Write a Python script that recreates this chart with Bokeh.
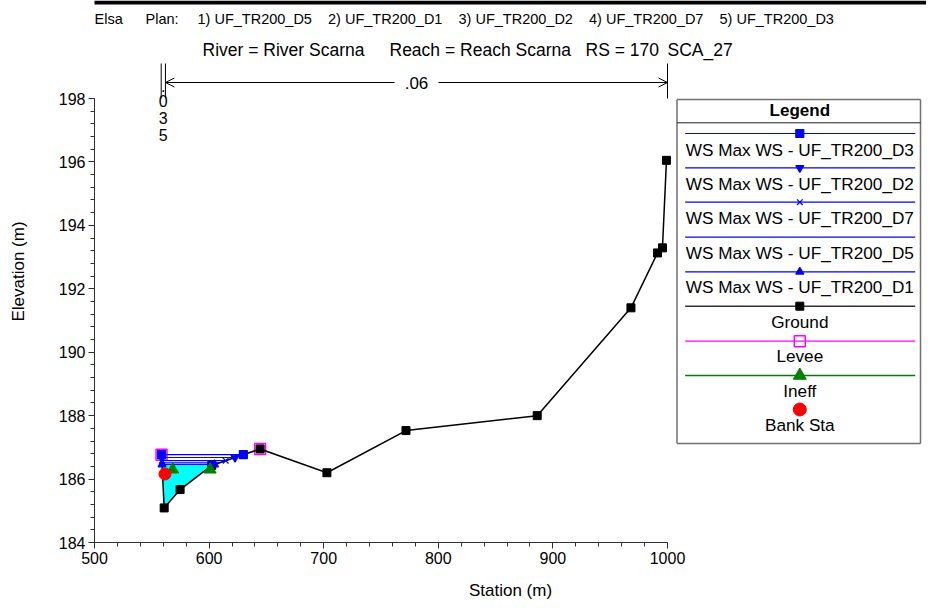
import numpy as np
from bokeh.plotting import figure
from bokeh.models import (Range1d, Label, Arrow, OpenHead, SingleIntervalTicker)
from bokeh.embed import file_html
from bokeh.resources import INLINE

# ---------------- data ----------------
ground_sta = [558.5, 560.8, 574.7, 602.3, 644.5, 702.8, 771.8, 886.3, 968.1, 991.3, 995.6, 999.1]
ground_elev = [186.77, 185.09, 185.67, 186.43, 186.95, 186.20, 187.53, 188.00, 191.40, 193.13, 193.29, 196.05]
levee_sta = [558.5, 644.5]
levee_elev = [186.77, 186.95]
ineff_sta = [568.3, 600.9]
ineff_elev = [186.30, 186.30]
bank_sta = [561.5]
bank_elev = [186.16]
ws_plans = ["UF_TR200_D3", "UF_TR200_D2", "UF_TR200_D7", "UF_TR200_D5", "UF_TR200_D1"]
ws_elev = [186.77, 186.68, 186.58, 186.51, 186.46]
ws_marker = ["square", "inverted_triangle", "x", None, "triangle"]
n_sta = [558.2, 561.9, 1000.0]
n_val = [".035", ".06"]
plan_labels = ["1) UF_TR200_D5", "2) UF_TR200_D1", "3) UF_TR200_D2", "4) UF_TR200_D7", "5) UF_TR200_D3"]
x_lo, x_hi = 500, 1000
y_lo, y_hi = 184, 198

FONT = "Liberation Sans"
BLUE = "#0000FF"
MAG = "#FF00FF"
GREEN = "#008000"

# layout (page pixels): canvas origin offset observed in the render
OX, OY = 2, 1
W, H = 926, 602
FX0, FX1, FY0, FY1 = 96, 669, 99, 543          # where the axes sit on the page
PXM = (FX1 - FX0) / (x_hi - x_lo)              # px per metre (x)
PYM = (FY1 - FY0) / (y_hi - y_lo)              # px per metre (y)
PAGE_R = OX + W
PAGE_T = OY

p = figure(width=W, height=H,
           x_range=Range1d(x_lo, x_lo + (PAGE_R - FX0) / PXM),
           y_range=Range1d(y_lo, y_lo + (FY1 - PAGE_T) / PYM),
           output_backend="svg", toolbar_location=None,
           min_border_left=FX0 - OX, min_border_right=0,
           min_border_top=0, min_border_bottom=H - (FY1 - OY),
           x_axis_label="Station (m)", y_axis_label="Elevation (m)")
p.outline_line_color = None
p.grid.visible = False
p.background_fill_color = "white"
p.border_fill_color = "white"
p.extra_x_ranges = {"px": Range1d(FX0, PAGE_R)}
p.extra_y_ranges = {"px": Range1d(FY1, PAGE_T)}

p.xaxis.ticker = SingleIntervalTicker(interval=100, num_minor_ticks=5)
p.yaxis.ticker = SingleIntervalTicker(interval=2, num_minor_ticks=5)
p.xaxis.bounds = (x_lo, x_hi)
p.yaxis.bounds = (y_lo, y_hi)
for ax in (p.xaxis, p.yaxis):
    ax.major_tick_out = 6
    ax.major_tick_in = 0
    ax.minor_tick_out = 4
    ax.minor_tick_in = 0
    ax.axis_line_color = "#303030"
    ax.major_tick_line_color = "#303030"
    ax.minor_tick_line_color = "#303030"
    ax.major_label_text_font = FONT
    ax.major_label_text_font_size = "16px"
    ax.major_label_text_color = "black"
    ax.axis_label_text_font = FONT
    ax.axis_label_text_font_size = "17px"
    ax.axis_label_text_font_style = "normal"
    ax.axis_label_text_color = "black"
p.xaxis.major_label_standoff = 3
p.yaxis.major_label_standoff = 3
p.xaxis.axis_label_standoff = 14
p.yaxis.axis_label_standoff = 28

# ---------------- plot marks ----------------
gx = np.array(ground_sta)
gy = np.array(ground_elev)

def ws_ends(e):
    left = np.interp(e, [gy[1], gy[0]], [gx[1], gx[0]])
    right = np.interp(e, gy[2:5], gx[2:5])
    return left, right

# water fill for lowest profile
e_fill = min(ws_elev)
lf, rt = ws_ends(e_fill)
inside = [(s, z) for s, z in zip(gx, gy) if lf < s < rt]
px_ = [lf, rt] + [s for s, z in inside[::-1]]
py_ = [e_fill, e_fill] + [z for s, z in inside[::-1]]
p.patch(px_, py_, fill_color="#00FFFF", line_color=None)

# levee
p.scatter(levee_sta, levee_elev, marker="square", size=11, fill_color=None,
          line_color=MAG, line_width=1.5)

# ground
p.line(ground_sta, ground_elev, line_color="black", line_width=1.5)
p.scatter(ground_sta, ground_elev, marker="square", size=8, color="black")

# water surfaces
for e, m in zip(ws_elev, ws_marker):
    l, r = ws_ends(e)
    p.line([l, r], [e, e], line_color=BLUE, line_width=1.2)
    if m is not None:
        p.scatter([l, r], [e, e], marker=m, size=8, color=BLUE, line_width=1.2)

# ineffective
p.scatter(ineff_sta, ineff_elev, marker="triangle", size=12, color=GREEN)
# bank stations
p.scatter(bank_sta, bank_elev, marker="circle", size=12, color="red")

# ---------------- annotations ----------------
def lab(x, y, text, size=17, align="left", bold=False, xr="px"):
    p.add_layout(Label(x=x, y=y, x_range_name=xr, y_range_name="px", text=text,
                       text_font=FONT, text_font_size=f"{size}px",
                       text_font_style="bold" if bold else "normal",
                       text_align=align, text_baseline="middle", text_color="black"))

def seg(x0, y0, x1, y1, color="black", width=1.0, xr="px", end=None):
    p.add_layout(Arrow(x_start=x0, y_start=y0, x_end=x1, y_end=y1, start=None, end=end,
                       line_color=color, line_width=width, x_range_name=xr, y_range_name="px"))

def pline(x0, y0, x1, y1, color="black", width=1.0):
    p.line([x0, x1], [y0, y1], line_color=color, line_width=width,
           x_range_name="px", y_range_name="px")

# top bar
pline(FX0 - 100, 3, PAGE_R + 10, 3, width=4)

# titles
lab(96, 19, "Elsa", 14.5)
lab(147, 19, "Plan:", 14.5)
for i, t in enumerate(plan_labels):
    lab(199 + i * 130.5, 19, t, 14.5)
lab(204, 50, "River = River Scarna", 17.5)
lab(391, 50, "Reach = Reach Scarna", 17.5)
lab(587, 50, "RS = 170", 17.5)
lab(669, 50, "SCA_27", 17.5)

# Manning's n regions
for s in n_sta:
    seg(s, 64, s, 99, xr="default")
mid0 = (n_sta[0] + n_sta[1]) / 2
for k, ch in enumerate(n_val[0]):
    lab(mid0, 86 if k == 0 else 84 + k * 17, ch, 16, align="center", xr="default")
mid1 = (n_sta[1] + n_sta[2]) / 2
gap = 22 / PXM
lab(mid1, 83, n_val[1], 17, align="center", xr="default")
seg(mid1 - gap, 83, n_sta[1], 83, xr="default",
    end=OpenHead(size=9, line_color="black", line_width=1))
seg(mid1 + gap, 83, n_sta[2], 83, xr="default",
    end=OpenHead(size=9, line_color="black", line_width=1))

# legend box
LX0, LX1, LY0, LY1 = 678.5, 922, 100, 444
for (a, b, c, d) in [(LX0, LY0, LX1, LY0), (LX0, LY1, LX1, LY1),
                     (LX0, LY0, LX0, LY1), (LX1, LY0, LX1, LY1)]:
    pline(a, b, c, d, color="#707070", width=1.5)
pline(LX0, 123.3, LX1, 123.3, color="#202020", width=1)
CX = 801.3
lab(CX, 110.5, "Legend", 17, align="center", bold=True)

line_y = [134, 168.3, 202.7, 237.7, 272.3, 306.7, 341.7, 376]
text_y = [150, 184.5, 218.5, 253, 287.7, 322.3, 356.7, 391, 425]
LL0, LL1 = 686.7, 916.7

def mk(y, marker, size, fill, line=None, lw=1.0):
    p.scatter([CX], [y], marker=marker, size=size, fill_color=fill,
              line_color=line if line else fill, line_width=lw,
              x_range_name="px", y_range_name="px")

for i, (plan, m) in enumerate(zip(ws_plans, ws_marker)):
    y = line_y[i]
    pline(LL0, y, LL1, y, color=BLUE, width=1.2)
    if m is not None:
        mk(y, m, 8, BLUE, lw=1.2)
    lab(CX, text_y[i], f"WS Max WS - {plan}", 17.2, align="center")

pline(LL0, line_y[5], LL1, line_y[5], color="#303030", width=1.5)
mk(line_y[5], "square", 8, "black")
lab(CX, text_y[5], "Ground", 17.2, align="center")
pline(LL0, line_y[6], LL1, line_y[6], color=MAG, width=1.2)
mk(line_y[6], "square", 11, None, MAG, 1.5)
lab(CX, text_y[6], "Levee", 17.2, align="center")
pline(LL0, line_y[7], LL1, line_y[7], color=GREEN, width=1.5)
mk(line_y[7], "triangle", 13, GREEN)
lab(CX, text_y[7], "Ineff", 17.2, align="center")
mk(410, "circle", 13, "red")
lab(CX, text_y[8], "Bank Sta", 17.2, align="center")

open("out.html", "w").write(file_html(p, INLINE))
